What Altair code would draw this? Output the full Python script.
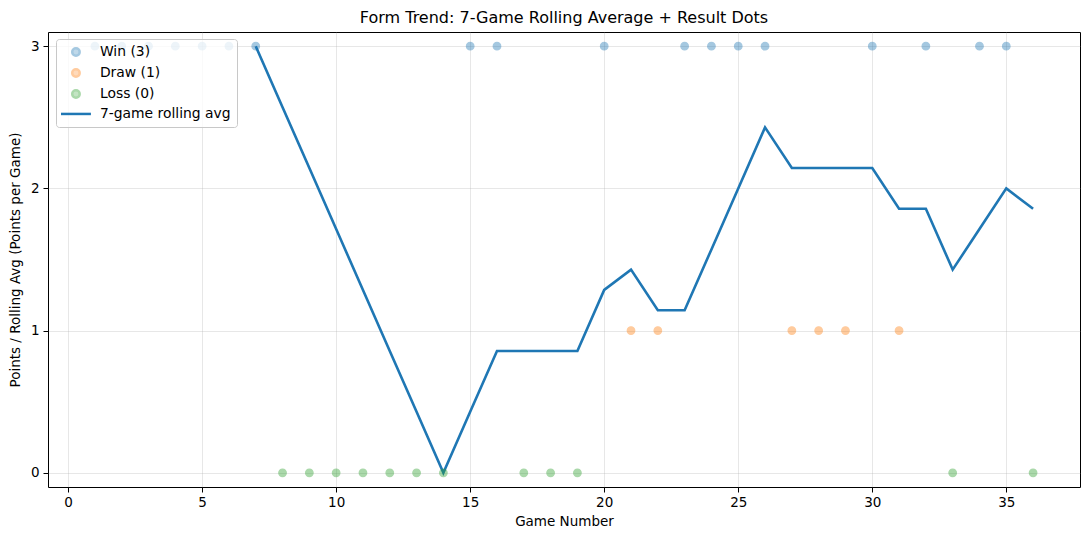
import altair as alt
import pandas as pd

games = list(range(1, 37))
points = [3, 3, 3, 3, 3, 3, 3,
          0, 0, 0, 0, 0, 0, 0,
          3, 3, 0, 0, 0, 3, 1, 1,
          3, 3, 3, 3, 1, 1, 1, 3, 1, 3, 0, 3, 3, 0]
result_names = {3: "Win (3)", 1: "Draw (1)", 0: "Loss (0)"}

roll_games = list(range(7, 37))
roll_avg = [3.0, 2.571, 2.143, 1.714, 1.286, 0.857, 0.429, 0.0,
            0.429, 0.857, 0.857, 0.857, 0.857, 1.286, 1.429, 1.143,
            1.143, 1.571, 2.0, 2.429, 2.143, 2.143, 2.143, 2.143,
            1.857, 1.857, 1.429, 1.714, 2.0, 1.857]

series_domain = ["Win (3)", "Draw (1)", "Loss (0)", "7-game rolling avg"]
series_colors = ["#1f77b4", "#ff7f0e", "#2ca02c", "#1f77b4"]
series_shapes = ["circle", "circle", "circle", "M-4,0H4"]
series_opacity = [0.4, 0.4, 0.4, 1.0]

dots = pd.DataFrame({"game": games, "value": points,
                     "series": [result_names[p] for p in points]})
line = pd.DataFrame({"game": roll_games, "value": roll_avg,
                     "series": ["7-game rolling avg"] * len(roll_games)})

font = "DejaVu Sans"
xs = alt.X("game:Q", scale=alt.Scale(domain=[-0.75, 37.75], nice=False, zero=False),
           axis=alt.Axis(title="Game Number", values=[0, 5, 10, 15, 20, 25, 30, 35],
                         format="d"))
ys = alt.Y("value:Q", scale=alt.Scale(domain=[-0.1, 3.1], nice=False, zero=False),
           axis=alt.Axis(title="Points / Rolling Avg (Points per Game)",
                         values=[0, 1, 2, 3], format="d"))

legend = alt.Legend(title=None, orient="none", legendX=8, legendY=7,
                    fillColor="rgba(255,255,255,0.8)", strokeColor="#c8c8c8",
                    cornerRadius=3, padding=6, rowPadding=3,
                    labelFont=font, labelFontSize=13.9, labelColor="black",
                    symbolStrokeWidth=2.5, symbolSize=56, symbolOffset=7,
                    labelOffset=17)

color = alt.Color("series:N", scale=alt.Scale(type="ordinal", domain=series_domain,
                                              range=series_colors), legend=legend)
stroke = alt.Stroke("series:N", scale=alt.Scale(type="ordinal", domain=series_domain,
                                                range=series_colors), legend=legend)
shape = alt.Shape("series:N", scale=alt.Scale(type="ordinal", domain=series_domain,
                                              range=series_shapes), legend=legend)
opac = alt.Opacity("series:N", scale=alt.Scale(type="ordinal", domain=series_domain,
                                               range=series_opacity), legend=legend)

pts = alt.Chart(dots).mark_point(filled=True, strokeWidth=1.3, size=56).encode(
    x=xs, y=ys, color=color, stroke=stroke, shape=shape, opacity=opac)

ln = alt.Chart(line).mark_line(strokeWidth=2.6).encode(
    x=xs, y=ys, color=color, stroke=stroke, opacity=opac)

chart = alt.layer(ln, pts).properties(
    width=1032, height=455,
    title=alt.TitleParams("Form Trend: 7-Game Rolling Average + Result Dots",
                          font=font, fontSize=16, fontWeight="normal", color="black",
                          anchor="middle", offset=6),
    autosize=alt.AutoSizeParams(type="none"),
    padding={"left": 40, "top": 24, "right": 1, "bottom": 45},
).configure_view(stroke="black", strokeWidth=1).configure_axis(
    labelFont=font, titleFont=font, labelFontSize=13.5, titleFontSize=13.5,
    titleFontWeight="normal", labelColor="black", titleColor="black",
    gridColor="#b0b0b0", gridOpacity=0.3, gridWidth=1,
    domain=False, tickColor="black", tickSize=5, tickWidth=1, labelPadding=3,
).configure_axisX(titlePadding=6).configure_axisY(titlePadding=8, labelPadding=4)

chart.save("out.html", embed_options={"renderer": "svg", "actions": False})
